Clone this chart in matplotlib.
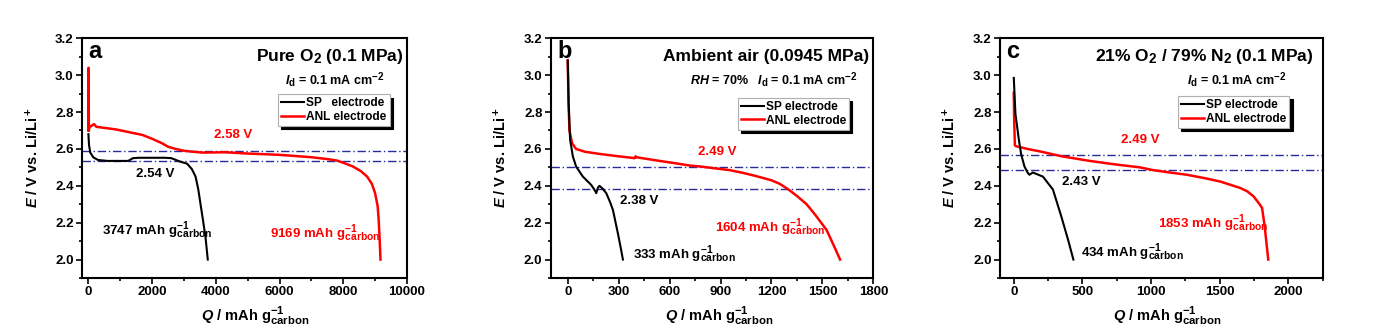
import matplotlib
matplotlib.use("Agg")
import matplotlib.pyplot as plt
from matplotlib.ticker import MultipleLocator, FormatStrFormatter
import matplotlib._mathtext as _mt

_mt.SHRINK_FACTOR = 0.78

plt.rcParams['font.family'] = ['Liberation Sans', 'DejaVu Sans']
plt.rcParams['font.weight'] = 'bold'
plt.rcParams['mathtext.fontset'] = 'custom'
plt.rcParams['mathtext.rm'] = 'Liberation Sans:bold'
plt.rcParams['mathtext.it'] = 'Liberation Sans:bold:italic'
plt.rcParams['mathtext.bf'] = 'Liberation Sans:bold'

# ---------------- data ----------------
# Panel a: Pure O2
a_sp_q = [0, 20, 60, 150, 300, 600, 1000, 1250, 1400, 1600, 2000, 2400, 2600, 2900, 3100,
          3250, 3364, 3450, 3520, 3600, 3677, 3747]
a_sp_e = [2.68, 2.62, 2.58, 2.555, 2.54, 2.535, 2.535, 2.535, 2.55, 2.552, 2.552, 2.552, 2.55,
          2.53, 2.52, 2.49, 2.45, 2.38, 2.30, 2.21, 2.12, 2.00]
a_anl_q = [0, 5, 15, 30, 100, 176, 250, 856, 1300, 1693, 2000, 2320, 2500, 2737, 3000, 3260,
           3600, 4305, 5000, 6000, 7000, 7500, 7806, 8000, 8300, 8550, 8750, 8900, 9000, 9080,
           9110, 9140, 9169]
a_anl_e = [2.70, 3.04, 2.70, 2.72, 2.725, 2.735, 2.72, 2.706, 2.69, 2.676, 2.655, 2.63, 2.612,
           2.60, 2.59, 2.585, 2.58, 2.582, 2.575, 2.568, 2.555, 2.545, 2.537, 2.525, 2.505,
           2.48, 2.45, 2.41, 2.36, 2.29, 2.22, 2.12, 2.00]
a_hlines = [2.589, 2.533]

# Panel b: Ambient air
b_sp_q = [0, 5, 14, 30, 49, 89, 138, 160, 168, 178, 187, 205, 227, 250, 266, 295, 315, 325]
b_sp_e = [3.08, 2.85, 2.65, 2.56, 2.505, 2.45, 2.405, 2.375, 2.36, 2.39, 2.40, 2.385, 2.36,
          2.31, 2.27, 2.144, 2.05, 2.00]
b_anl_q = [0, 5, 10, 26, 49, 100, 187, 300, 395, 400, 403, 541, 650, 718, 777, 954, 1033,
           1100, 1200, 1250, 1300, 1350, 1407, 1460, 1525, 1570, 1604]
b_anl_e = [3.08, 2.85, 2.70, 2.63, 2.60, 2.585, 2.573, 2.56, 2.55, 2.56, 2.555, 2.535, 2.52,
           2.51, 2.505, 2.485, 2.47, 2.455, 2.43, 2.41, 2.38, 2.345, 2.30, 2.24, 2.16, 2.07,
           2.00]
b_hlines = [2.501, 2.382]

# Panel c: 21% O2 / 79% N2
c_sp_q = [0, 12, 37, 54, 78, 102, 114, 139, 212, 285, 346, 395, 434]
c_sp_e = [2.985, 2.79, 2.65, 2.57, 2.504, 2.47, 2.46, 2.472, 2.45, 2.38, 2.234, 2.108, 2.00]
c_anl_q = [0, 3, 8, 15, 100, 200, 350, 553, 750, 919, 1016, 1138, 1260, 1400, 1504, 1600,
           1650, 1700, 1747, 1790, 1808, 1827, 1840, 1853]
c_anl_e = [2.905, 2.75, 2.62, 2.615, 2.60, 2.585, 2.56, 2.535, 2.515, 2.50, 2.485, 2.472,
           2.46, 2.44, 2.423, 2.40, 2.388, 2.37, 2.342, 2.30, 2.28, 2.18, 2.09, 2.00]
c_hlines = [2.568, 2.486]

panels = [
    dict(letter='a', sp=(a_sp_q, a_sp_e), anl=(a_anl_q, a_anl_e), hl=a_hlines,
         xlim=(-200, 10000), xmaj=2000, xmin=1000,
         pos=[0.0591, 0.1677, 0.2341, 0.7176],
         title=r'Pure O$_2$ (0.1 MPa)', title_x=0.989,
         cond=r'$\mathit{I}_\mathrm{d}$ = 0.1 mA cm$^{-2}$', cond_x=0.932,
         sp_label='SP   electrode', leg=(0.604, 0.766),
         red_v=('2.58 V', 4546, 2.676), blk_v=('2.54 V', 2110, 2.463),
         blk_cap=('3747', 439, 2.16), red_cap=('9169', 5694, 2.144),
         ylx=-0.126, xlx=0.532),
    dict(letter='b', sp=(b_sp_q, b_sp_e), anl=(b_anl_q, b_anl_e), hl=b_hlines,
         xlim=(-100, 1800), xmaj=300, xmin=150,
         pos=[0.3968, 0.1677, 0.2324, 0.7176],
         title='Ambient air (0.0945 MPa)', title_x=0.988,
         cond=r'$\mathit{RH}$ = 70%   $\mathit{I}_\mathrm{d}$ = 0.1 mA cm$^{-2}$', cond_x=0.950,
         sp_label='SP electrode', leg=(0.58, 0.752),
         red_v=('2.49 V', 882, 2.585), blk_v=('2.38 V', 423, 2.319),
         blk_cap=('333', 384, 2.027), red_cap=('1604', 866, 2.177),
         ylx=-0.130, xlx=0.522),
    dict(letter='c', sp=(c_sp_q, c_sp_e), anl=(c_anl_q, c_anl_e), hl=c_hlines,
         xlim=(-100, 2250), xmaj=500, xmin=250,
         pos=[0.7205, 0.1677, 0.2325, 0.7176],
         title=r'21% O$_2$ / 79% N$_2$ (0.1 MPa)', title_x=0.972,
         cond=r'$\mathit{I}_\mathrm{d}$ = 0.1 mA cm$^{-2}$', cond_x=0.889,
         sp_label='SP electrode', leg=(0.552, 0.759),
         red_v=('2.49 V', 919, 2.649), blk_v=('2.43 V', 493, 2.418),
         blk_cap=('434', 493, 2.04), red_cap=('1853', 1048, 2.198),
         ylx=-0.131, xlx=0.517),
]

RED = '#ff0000'
NAVY = '#2a2a9a'
CAP = r' mAh g$^{-1}_{\mathrm{carbon}}$'

fig = plt.figure(figsize=(13.88, 3.34), dpi=100)

for p in panels:
    ax = fig.add_axes(p['pos'])
    for h in p['hl']:
        ax.axhline(h, color=NAVY, lw=1.0, ls=(0, (6, 2, 1, 2)), zorder=1)
    l1, = ax.plot(*p['sp'], color='black', lw=1.5, zorder=3)
    l2, = ax.plot(*p['anl'], color=RED, lw=1.8, zorder=2)
    ax.set_xlim(*p['xlim'])
    ax.set_ylim(1.9, 3.2)
    ax.xaxis.set_major_locator(MultipleLocator(p['xmaj']))
    ax.xaxis.set_minor_locator(MultipleLocator(p['xmin']))
    ax.yaxis.set_major_locator(MultipleLocator(0.2))
    ax.yaxis.set_minor_locator(MultipleLocator(0.1))
    ax.yaxis.set_major_formatter(FormatStrFormatter('%.1f'))
    ax.tick_params(which='both', direction='out', top=False, right=False, width=1.2)
    ax.tick_params(which='major', length=4, labelsize=9.5, pad=2)
    ax.tick_params(which='minor', length=2.5)
    for s in ax.spines.values():
        s.set_linewidth(1.5)

    ax.set_ylabel(r'$\mathit{E}$ / V vs. Li/Li$^+$', fontsize=10.5, fontweight='bold')
    ax.yaxis.set_label_coords(p['ylx'], 0.5)
    ax.set_xlabel(r'$\mathit{Q}$ / mAh g$^{-1}_{\mathrm{carbon}}$', fontsize=10.5, fontweight='bold')
    ax.xaxis.set_label_coords(p['xlx'], -0.11)

    ax.text(0.02, 0.995, p['letter'], transform=ax.transAxes, ha='left', va='top',
            fontsize=17, fontweight='bold')
    ax.text(p['title_x'], 0.925, p['title'], transform=ax.transAxes, ha='right', va='center',
            fontsize=12.5, fontweight='bold')
    ax.text(p['cond_x'], 0.825, p['cond'], transform=ax.transAxes, ha='right', va='center',
            fontsize=9, fontweight='bold')

    t, x, y = p['red_v']
    ax.text(x, y, t, color=RED, ha='center', va='center', fontsize=9.5, fontweight='bold')
    t, x, y = p['blk_v']
    ax.text(x, y, t, color='black', ha='center', va='center', fontsize=9.5, fontweight='bold')
    t, x, y = p['blk_cap']
    ax.text(x, y, t + CAP, color='black', ha='left', va='center', fontsize=9.5, fontweight='bold')
    t, x, y = p['red_cap']
    ax.text(x, y, t + CAP, color=RED, ha='left', va='center', fontsize=9.5, fontweight='bold')

    lx, ly = p['leg']
    leg = ax.legend([l1, l2], [p['sp_label'], 'ANL electrode'],
                    loc='upper left', bbox_to_anchor=(lx, ly),
                    fancybox=False, framealpha=1, edgecolor='#b0b0b0',
                    shadow={'ox': 2.3, 'oy': -2.3, 'facecolor': 'black',
                            'edgecolor': 'black', 'alpha': 1},
                    fontsize=8.6, handlelength=1.9, handletextpad=0.2, borderpad=0.25,
                    labelspacing=0.15, borderaxespad=0)
    leg.get_frame().set_linewidth(0.8)
    for txt in leg.get_texts():
        txt.set_fontweight('bold')

fig.savefig('out.png', dpi=100)
